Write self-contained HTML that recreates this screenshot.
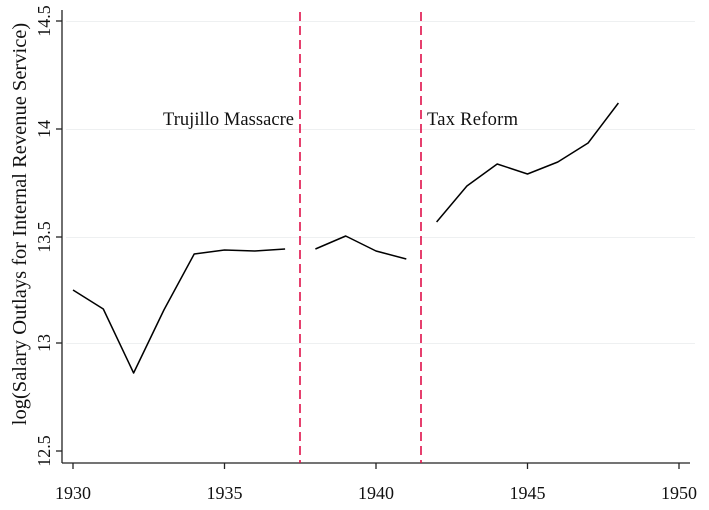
<!DOCTYPE html>
<html><head><style>body{margin:0;background:#fff}svg{display:block}text{font-family:"Liberation Serif",serif;fill:#111}</style></head>
<body>
<svg width="709" height="510" xmlns="http://www.w3.org/2000/svg">
<rect width="709" height="510" fill="#fff"/>
<g stroke="#eef0f1" stroke-width="1">
<line x1="66" y1="21.5" x2="695" y2="21.5"/>
<line x1="66" y1="129.5" x2="695" y2="129.5"/>
<line x1="66" y1="237.5" x2="695" y2="237.5"/>
<line x1="66" y1="343.5" x2="695" y2="343.5"/>
</g>
<g stroke="#222" stroke-width="1.3" fill="none">
<line x1="62" y1="10" x2="62" y2="463"/>
<line x1="62" y1="463" x2="690" y2="463"/>
<line x1="56" y1="21" x2="62" y2="21"/>
<line x1="56" y1="129" x2="62" y2="129"/>
<line x1="56" y1="237" x2="62" y2="237"/>
<line x1="56" y1="343" x2="62" y2="343"/>
<line x1="56" y1="451" x2="62" y2="451"/>
<line x1="73" y1="463" x2="73" y2="469"/>
<line x1="224.5" y1="463" x2="224.5" y2="469"/>
<line x1="376" y1="463" x2="376" y2="469"/>
<line x1="527.5" y1="463" x2="527.5" y2="469"/>
<line x1="679" y1="463" x2="679" y2="469"/>
</g>
<g font-size="18" text-anchor="middle">
<text x="73" y="499">1930</text><text x="224.5" y="499">1935</text><text x="376" y="499">1940</text><text x="527.5" y="499">1945</text><text x="679" y="499">1950</text>
</g>
<g font-size="18" text-anchor="middle">
<text transform="translate(50,21) rotate(-90)">14.5</text>
<text transform="translate(50,129) rotate(-90)">14</text>
<text transform="translate(50,237) rotate(-90)">13.5</text>
<text transform="translate(50,343) rotate(-90)">13</text>
<text transform="translate(50,451) rotate(-90)">12.5</text>
<text transform="translate(26,224) rotate(-90)" font-size="20.5">log(Salary Outlays for Internal Revenue Service)</text>
</g>
<g stroke="#e0104a" stroke-width="1.6" stroke-dasharray="9,5">
<line x1="300" y1="12" x2="300" y2="463"/>
<line x1="421" y1="12" x2="421" y2="463"/>
</g>
<text x="163" y="125" font-size="18.5" textLength="131">Trujillo Massacre</text>
<text x="427" y="125" font-size="18.5" textLength="91">Tax Reform</text>
<g stroke="#000" stroke-width="1.5" fill="none" stroke-linejoin="round">
<polyline points="73,290 103.3,309 133.6,373 163.9,310 194.2,254 224.5,250 254.8,251 285.1,249"/>
<polyline points="315.4,249 345.7,236 376,251 406.3,259"/>
<polyline points="436.6,222 466.9,186 497.2,164 527.5,174 557.8,162 588.1,143 618.4,103"/>
</g>
</svg>
</body></html>
